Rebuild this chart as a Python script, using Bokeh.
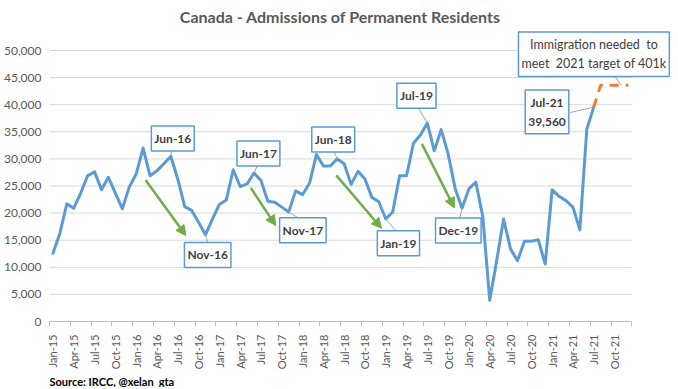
from bokeh.plotting import figure
from bokeh.models import (Range1d, FixedTicker, NumeralTickFormatter, Label, Title,
                          Arrow, NormalHead, ColumnDataSource)
from bokeh.embed import file_html
from bokeh.resources import INLINE
import math

# ---------------- data ----------------
years = ["15", "16", "17", "18", "19", "20", "21"]
month_names = ["Jan", "Feb", "Mar", "Apr", "May", "Jun",
               "Jul", "Aug", "Sep", "Oct", "Nov", "Dec"]
months = [f"{m}-{y}" for y in years for m in month_names]   # Jan-15 .. Dec-21

tick_labels = ["Jan-15", "Apr-15", "Jul-15", "Oct-15", "Jan-16", "Apr-16", "Jul-16",
               "Oct-16", "Jan-17", "Apr-17", "Jul-17", "Oct-17", "Jan-18", "Apr-18",
               "Jul-18", "Oct-18", "Jan-19", "Apr-19", "Jul-19", "Oct-19", "Jan-20",
               "Apr-20", "Jul-20", "Oct-20", "Jan-21", "Apr-21", "Jul-21", "Oct-21"]

# monthly admissions, Jan-15 .. Jul-21
admissions = [12600, 16300, 21700, 20900, 23700, 26900, 27600, 24300, 26600, 23700, 20800, 24800,
              27200, 32000, 26900, 27800, 29100, 30500, 26300, 21200, 20500, 18300, 16000, 18900,
              21600, 22400, 28000, 24900, 25400, 27400, 26000, 22200, 22000, 21100, 20200, 24100,
              23400, 25500, 30800, 28700, 28700, 30000, 29100, 25300, 27700, 26300, 22900, 22100,
              18900, 20200, 26900, 26900, 32900, 34400, 36600, 31500, 35400, 30900, 24600, 20900,
              24500, 25700, 19300, 3900, 11200, 18900, 13400, 11200, 14800, 14800, 15100, 10600,
              24300, 23100, 22300, 21100, 16900, 35500, 39560]

# projection needed to meet target, Jul-21 .. Dec-21
projection_months = ["Jul-21", "Aug-21", "Sep-21", "Oct-21", "Nov-21", "Dec-21"]
projection = [39560, 43600, 43600, 43600, 43600, 43600]

y_ticks = [0, 5000, 10000, 15000, 20000, 25000, 30000, 35000, 40000, 45000, 50000]

# ---------------- layout ----------------
W, H = 670, 387
ML, MB = 48, 66
FW, FH = W - ML, H - MB            # frame spans to right and top edges
X0, XA = -0.5, len(months) - 0.5   # axis extent
PXM = 583.3 / (XA - X0)            # px per month
PXU = 271.0 / 50000                # px per unit
X1 = X0 + FW / PXM
Y0 = 0
Y1 = FH / PXU

BLUE = "#5B9BD5"
ORANGE = "#ED7D31"
GREEN = "#70AD47"
GREY_TXT = "#595959"
DARK = "#404040"
FONT = "Lato"

p = figure(width=W, height=H, output_backend="svg", toolbar_location=None,
           x_range=Range1d(X0, X1), y_range=Range1d(Y0, Y1),
           min_border_left=ML, min_border_right=0, min_border_top=0,
           min_border_bottom=MB)
p.outline_line_color = None
p.background_fill_color = "white"
p.border_fill_color = "white"

# axes
xi = list(range(len(months)))
tick_pos = [months.index(t) for t in tick_labels]
p.xaxis.ticker = FixedTicker(ticks=tick_pos,
                             minor_ticks=[t - 0.5 for t in tick_pos] + [XA])
p.xaxis.bounds = (X0, XA)
p.xaxis.major_label_overrides = {i: t for i, t in zip(tick_pos, tick_labels)}
p.xaxis.major_label_orientation = math.pi / 2
p.xaxis.major_tick_line_color = None
p.xaxis.major_tick_out = 0
p.xaxis.major_tick_in = 0
p.xaxis.minor_tick_line_color = "#BFBFBF"
p.xaxis.minor_tick_out = 5
p.xaxis.minor_tick_in = 0
p.xaxis.axis_line_color = "#BFBFBF"
p.xaxis.major_label_standoff = 8
p.xaxis.major_label_text_font = FONT
p.xaxis.major_label_text_font_size = "11px"
p.xaxis.major_label_text_color = GREY_TXT

p.yaxis.ticker = FixedTicker(ticks=y_ticks)
p.yaxis.formatter = NumeralTickFormatter(format="0,0")
p.yaxis.axis_line_color = None
p.yaxis.major_tick_line_color = None
p.yaxis.minor_tick_line_color = None
p.yaxis.major_tick_out = 0
p.yaxis.major_tick_in = 0
p.yaxis.minor_tick_out = 0
p.yaxis.minor_tick_in = 0
p.yaxis.major_label_standoff = 8
p.yaxis.major_label_text_font = FONT
p.yaxis.major_label_text_font_size = "12px"
p.yaxis.major_label_text_color = GREY_TXT

p.xgrid.grid_line_color = None
p.ygrid.grid_line_color = None
# horizontal gridlines limited to the axis extent
p.segment(x0=[X0] * len(y_ticks), x1=[XA] * len(y_ticks), y0=y_ticks, y1=y_ticks,
          line_color="#D9D9D9", line_width=1)

# series
p.line(xi[:len(admissions)], admissions, line_color=BLUE, line_width=3,
       line_join="round", line_cap="round")
p.line([months.index(m) for m in projection_months], projection, line_color=ORANGE,
       line_width=3, line_dash="9 7")


def dx(px):
    return px / PXM


def dy(px):          # px positive = downward on screen
    return -px / PXU


# callouts: (text, month, box-centre offset px, leader start offset px)
callouts = [
    ("Jun-16", "Jun-16", (2, -17.7), (1, -8)),
    ("Nov-16", "Nov-16", (2.2, 20.1), (2.7, 9.7)),
    ("Jun-17", "Jun-17", (4.4, -19.5), (4.1, -9.2)),
    ("Nov-17", "Nov-17", (14.2, 18.3), (12.7, 7.8)),
    ("Jun-18", "Jun-18", (-4, -19.5), (-4.2, -9.7)),
    ("Jan-19", "Jan-19", (12.7, 24.1), (12.2, 14.1)),
    ("Jul-19", "Jul-19", (-10.9, -27.3), (-10.2, -17.1)),
    ("Dec-19", "Dec-19", (-3.7, 22.2), (-2.6, 11.3)),
    ("Jul-21\n39,560", "Jul-21", (-46.8, 4.7), (-23.5, 5.4)),
]

lx0, ly0, lx1, ly1 = [], [], [], []
for text, m, (bx, by), (sx, sy) in callouts:
    i = months.index(m)
    v = admissions[i]
    p.add_layout(Label(x=i + dx(bx), y=v + dy(by), text=text,
                       text_align="center", text_baseline="middle",
                       text_font=FONT, text_font_style="bold",
                       text_font_size="12px", text_color=DARK,
                       text_line_height=1.25,
                       background_fill_color="white",
                       border_line_color=BLUE, border_line_width=1.5,
                       padding=(3, 5)))
    lx0.append(i + dx(sx)); ly0.append(v + dy(sy)); lx1.append(i); ly1.append(v)

# projection callout
pi_ = months.index("Nov-21")
pv = projection[projection_months.index("Nov-21")]
p.add_layout(Label(x=pi_ + dx(-27.6), y=pv + dy(-31),
                   text="Immigration needed\u00a0 to\nmeet\u00a0 2021 target of 401k",
                   text_align="center", text_baseline="middle",
                   text_font=FONT, text_font_size="12.5px", text_color=DARK,
                   text_line_height=1.3,
                   background_fill_color="white",
                   border_line_color=BLUE, border_line_width=1.5,
                   padding=(3, 5)))
lx0.append(pi_ + dx(-9.6)); ly0.append(pv + dy(-12.4)); lx1.append(pi_); ly1.append(pv)

p.segment(x0="x0", y0="y0", x1="x1", y1="y1",
          source=ColumnDataSource(dict(x0=lx0, y0=ly0, x1=lx1, y1=ly1)),
          line_color="#A6A6A6", line_width=1)

# green trend arrows (axis units)
arrows = [
    ((13.36, 26120), (19.17, 15850)),
    ((28.53, 24650), (32.13, 17700)),
    ((40.87, 26970), (47.39, 17200)),
    ((53.21, 32760), (57.90, 20960)),
]
for (xs, ys), (xe, ye) in arrows:
    p.add_layout(Arrow(x_start=xs, y_start=ys, x_end=xe, y_end=ye,
                       line_color=GREEN, line_width=2.5,
                       end=NormalHead(size=10, fill_color=GREEN,
                                      line_color=GREEN, line_width=1)))

# title (inside the extended frame) and source (below the axis)
p.add_layout(Label(x=dx(339 - 51.2), y=dy(16 - 321),
                   text="Canada - Admissions of Permanent Residents",
                   text_align="center", text_baseline="middle",
                   text_font=FONT, text_font_style="bold",
                   text_font_size="16px", text_color=GREY_TXT))
p.add_layout(Title(text="Source: IRCC, @xelan_gta", align="left",
                   text_font=FONT, text_font_style="bold",
                   text_font_size="11px", text_color="black",
                   standoff=0, offset=0), "below")

open("out.html", "w").write(file_html(p, INLINE))
